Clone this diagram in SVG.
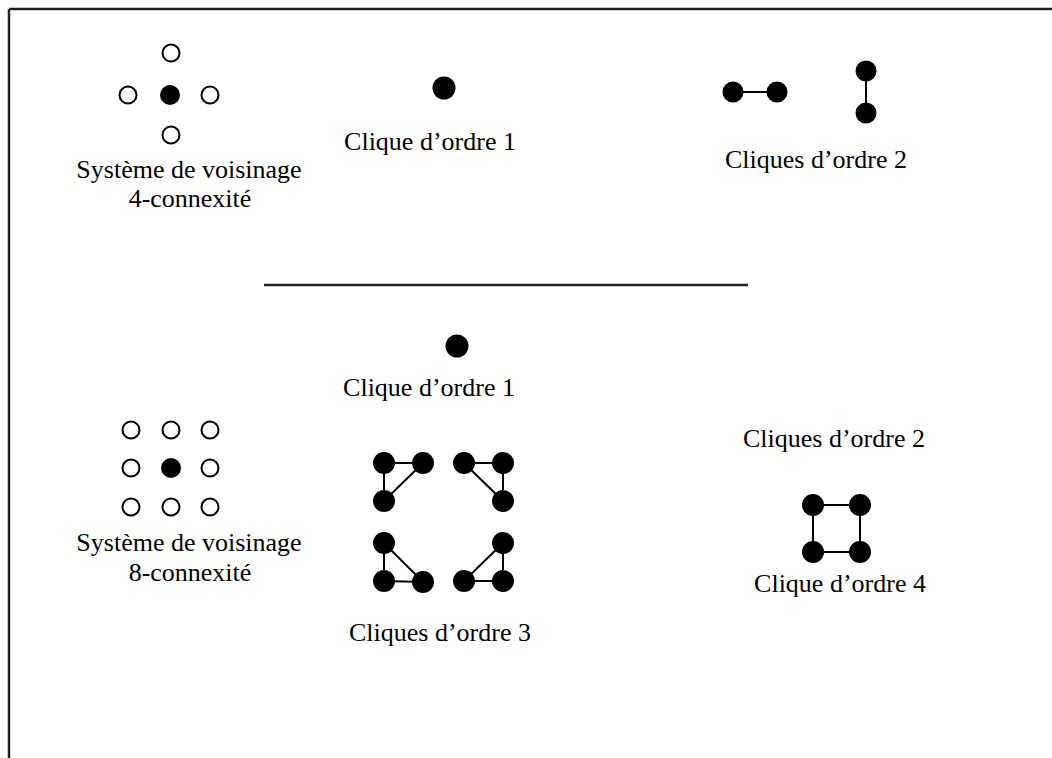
<svg xmlns="http://www.w3.org/2000/svg" width="1052" height="758" viewBox="0 0 1052 758">
<style>
  text { font-family: "Liberation Serif", "Times New Roman", serif; font-size: 26px; fill: #000; text-anchor: middle; }
  .open { fill: #fff; stroke: #000; stroke-width: 2; }
  .fill { fill: #000; }
  .edge { stroke: #000; stroke-width: 2; fill: none; }
  .frame { stroke: #222; stroke-width: 2.5; fill: none; }
</style>
<rect width="1052" height="758" fill="#fff"/>
<g id="frame">
  <line class="frame" x1="9" y1="9" x2="1052" y2="9"/>
  <line class="frame" x1="9" y1="9" x2="9" y2="758"/>
  <line class="frame" x1="264" y1="285" x2="748" y2="285"/>
</g>
<g id="connectors">
  <line class="edge" x1="733" y1="92" x2="777" y2="92"/>
  <line class="edge" x1="866" y1="71" x2="866" y2="113"/>
  <polyline class="edge" points="384,501 384,463 423,463 384,501"/>
  <polyline class="edge" points="503,501 503,463 464,463 503,501"/>
  <polyline class="edge" points="384,543 384,581 423,582 384,543"/>
  <polyline class="edge" points="503,543 503,581 464,581 503,543"/>
  <polygon class="edge" points="813,505 860,505 860,552 813,552"/>
</g>
<g id="n4-connexite">
  <circle class="open" cx="171" cy="53" r="8.5"/>
  <circle class="open" cx="128" cy="95" r="8.5"/>
  <circle class="fill" cx="170" cy="95" r="10"/>
  <circle class="open" cx="210" cy="95" r="8.5"/>
  <circle class="open" cx="171" cy="135" r="8.5"/>
  <text x="189" y="178">Système de voisinage</text>
  <text x="190" y="207">4-connexité</text>
</g>
<g id="clique1-top">
  <circle class="fill" cx="444" cy="88" r="11.5"/>
  <text x="430" y="150">Clique d’ordre 1</text>
</g>
<g id="cliques2-top">
  <circle class="fill" cx="733" cy="92" r="10.5"/>
  <circle class="fill" cx="777" cy="92" r="10.5"/>
  <circle class="fill" cx="866" cy="71" r="10.5"/>
  <circle class="fill" cx="866" cy="113" r="10.5"/>
  <text x="816" y="168">Cliques d’ordre 2</text>
</g>
<g id="clique1-bottom">
  <circle class="fill" cx="457" cy="346" r="11.5"/>
  <text x="429" y="396">Clique d’ordre 1</text>
</g>
<g id="n8-connexite">
  <circle class="open" cx="131" cy="430" r="8.5"/>
  <circle class="open" cx="171" cy="430" r="8.5"/>
  <circle class="open" cx="210" cy="430" r="8.5"/>
  <circle class="open" cx="131" cy="468" r="8.5"/>
  <circle class="fill" cx="171" cy="468" r="10"/>
  <circle class="open" cx="210" cy="468" r="8.5"/>
  <circle class="open" cx="131" cy="507" r="8.5"/>
  <circle class="open" cx="171" cy="507" r="8.5"/>
  <circle class="open" cx="210" cy="507" r="8.5"/>
  <text x="189" y="551">Système de voisinage</text>
  <text x="190" y="581">8-connexité</text>
</g>
<g id="cliques3">
  <circle class="fill" cx="384" cy="463" r="11"/>
  <circle class="fill" cx="423" cy="463" r="11"/>
  <circle class="fill" cx="384" cy="501" r="11"/>
  <circle class="fill" cx="464" cy="463" r="11"/>
  <circle class="fill" cx="503" cy="463" r="11"/>
  <circle class="fill" cx="503" cy="501" r="11"/>
  <circle class="fill" cx="384" cy="543" r="11"/>
  <circle class="fill" cx="384" cy="581" r="11"/>
  <circle class="fill" cx="423" cy="582" r="11"/>
  <circle class="fill" cx="503" cy="543" r="11"/>
  <circle class="fill" cx="464" cy="581" r="11"/>
  <circle class="fill" cx="503" cy="581" r="11"/>
  <text x="440" y="641">Cliques d’ordre 3</text>
</g>
<g id="cliques2-bottom">
  <text x="834" y="447">Cliques d’ordre 2</text>
</g>
<g id="clique4">
  <circle class="fill" cx="813" cy="505" r="11"/>
  <circle class="fill" cx="860" cy="505" r="11"/>
  <circle class="fill" cx="813" cy="552" r="11"/>
  <circle class="fill" cx="860" cy="552" r="11"/>
  <text x="840" y="592">Clique d’ordre 4</text>
</g>
</svg>
